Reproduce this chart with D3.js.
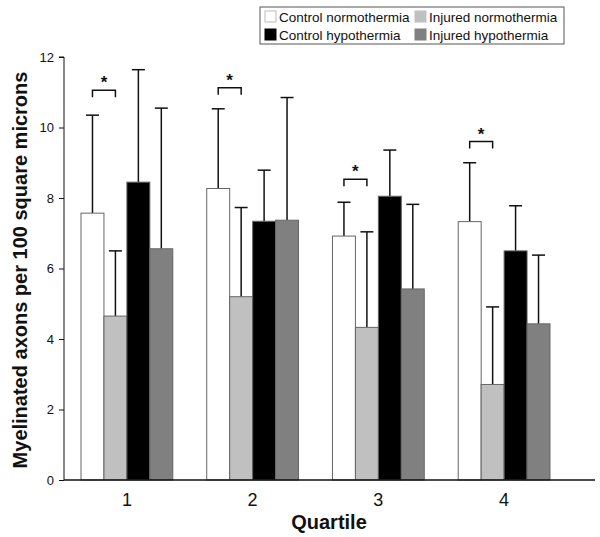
<!DOCTYPE html>
<html>
<head>
<meta charset="utf-8">
<script src="https://cdn.jsdelivr.net/npm/d3@7"></script>
<style>
  body { margin: 0; background: #fff; }
  svg text { font-family: "Liberation Sans", Arial, sans-serif; fill: #111; }
</style>
</head>
<body>
<div id="result"></div>
<script>
// values
const quartiles = ['1', '2', '3', '4'];
const series = ['Control normothermia', 'Injured normothermia', 'Control hypothermia', 'Injured hypothermia'];
const colors = ['#ffffff', '#c0c0c0', '#000000', '#808080'];
const controlNormo = [7.57, 8.27, 6.92, 7.33];
const injuredNormo = [4.65, 5.2, 4.33, 2.71];
const controlHypo = [8.45, 7.34, 8.05, 6.5];
const injuredHypo = [6.56, 7.37, 5.42, 4.43];
const errControlNormo = [10.35, 10.53, 7.88, 9.0];
const errInjuredNormo = [6.5, 7.73, 7.04, 4.91];
const errControlHypo = [11.64, 8.79, 9.36, 7.78];
const errInjuredHypo = [10.55, 10.85, 7.82, 6.38];
const sigLevel = [11.06, 11.13, 8.53, 9.6];
const yTicks = [0, 2, 4, 6, 8, 10, 12];

const width = 600, height = 537;
const margin = { top: 57, bottom: 57, left: 64, right: 7 };

const means = [controlNormo, injuredNormo, controlHypo, injuredHypo];
const tops = [errControlNormo, errInjuredNormo, errControlHypo, errInjuredHypo];

const svg = d3.select('#result').append('svg')
  .attr('width', width)
  .attr('height', height);

const y = d3.scaleLinear().domain([0, 12]).range([height - margin.bottom, margin.top]);
const x = d3.scaleBand().domain(quartiles).range([81, 550]).paddingInner(0.27);
const xs = d3.scaleBand().domain(d3.range(4)).range([0, x.bandwidth()]);

// y axis
const yAxis = svg.append('g')
  .attr('transform', `translate(${margin.left},0)`)
  .call(d3.axisLeft(y).tickValues(yTicks).tickSize(5).tickPadding(5));
yAxis.select('.domain').attr('stroke', '#111').attr('d', `M-5,${y(12)}H0V${y(0)}`);
yAxis.selectAll('.tick line').attr('stroke', '#111');
yAxis.selectAll('.tick text').style('font-size', '13px').attr('fill', '#222');

// bars
const groups = svg.append('g').selectAll('g')
  .data(quartiles)
  .join('g')
  .attr('transform', d => `translate(${x(d)},0)`);

groups.each(function(q, qi) {
  const g = d3.select(this);
  for (let s = 0; s < 4; s++) {
    const cx = xs(s) + xs.bandwidth() / 2;
    g.append('line')
      .attr('x1', cx).attr('x2', cx)
      .attr('y1', y(means[s][qi])).attr('y2', y(tops[s][qi]))
      .attr('stroke', '#111').attr('stroke-width', 1.5);
    g.append('line')
      .attr('x1', cx - 6.5).attr('x2', cx + 6.5)
      .attr('y1', y(tops[s][qi])).attr('y2', y(tops[s][qi]))
      .attr('stroke', '#111').attr('stroke-width', 1.5);
  }
  g.selectAll('rect')
    .data(d3.range(4))
    .join('rect')
    .attr('x', s => xs(s))
    .attr('width', xs.bandwidth())
    .attr('y', s => y(means[s][qi]))
    .attr('height', s => y(0) - y(means[s][qi]))
    .attr('fill', s => colors[s])
    .attr('stroke', '#666')
    .attr('stroke-width', 1);

  // significance bracket between control and injured normothermia
  const x1 = xs(0) + xs.bandwidth() / 2, x2 = xs(1) + xs.bandwidth() / 2;
  const by = y(sigLevel[qi]);
  g.append('path')
    .attr('d', `M${x1},${by + 7}V${by}H${x2}V${by + 7}`)
    .attr('fill', 'none').attr('stroke', '#111').attr('stroke-width', 1.5);
  g.append('text')
    .attr('x', (x1 + x2) / 2).attr('y', by - 2)
    .attr('text-anchor', 'middle')
    .style('font-size', '17px').style('font-weight', 'bold')
    .text('*');
});

// x axis baseline and labels
svg.append('line')
  .attr('x1', margin.left).attr('x2', 595)
  .attr('y1', y(0)).attr('y2', y(0))
  .attr('stroke', '#111').attr('stroke-width', 1.5);

svg.append('g').selectAll('text')
  .data(quartiles)
  .join('text')
  .attr('x', d => x(d) + x.bandwidth() / 2)
  .attr('y', 506)
  .attr('text-anchor', 'middle')
  .style('font-size', '18px')
  .text(d => d);

svg.append('text')
  .attr('x', 329).attr('y', 529)
  .attr('text-anchor', 'middle')
  .style('font-size', '20px').style('font-weight', 'bold')
  .text('Quartile');

svg.append('text')
  .attr('transform', `translate(27,${270})rotate(-90)`)
  .attr('text-anchor', 'middle')
  .style('font-size', '20px').style('font-weight', 'bold')
  .text('Myelinated axons per 100 square microns');

// legend
const legend = svg.append('g').attr('transform', 'translate(260,7)');
legend.append('rect')
  .attr('width', 304).attr('height', 37)
  .attr('fill', '#fff').attr('stroke', '#555');
const legendPos = [[5, 9.5], [155, 9.5], [5, 27.5], [155, 27.5]];
series.forEach((name, s) => {
  const [lx, ly] = legendPos[s];
  legend.append('rect')
    .attr('x', lx).attr('y', ly - 5.5)
    .attr('width', 11).attr('height', 11)
    .attr('fill', colors[s])
    .attr('stroke', s === 0 ? '#bbb' : colors[s]);
  legend.append('text')
    .attr('x', lx + 14).attr('y', ly + 5)
    .style('font-size', '13.5px')
    .text(name);
});
</script>
</body>
</html>
